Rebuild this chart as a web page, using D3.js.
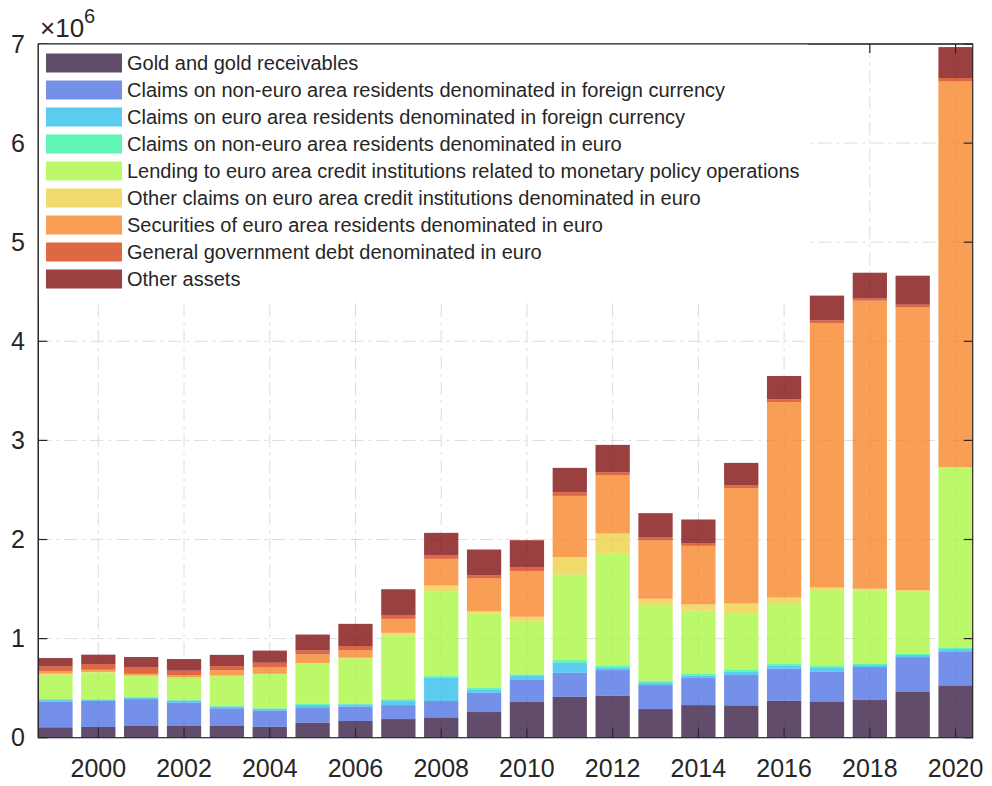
<!DOCTYPE html>
<html><head><meta charset="utf-8">
<script src="https://cdn.jsdelivr.net/npm/d3@7"></script>
<style>
body{margin:0;background:#fff}
svg{display:block}
text{font-family:"Liberation Sans",Arial,Helvetica,sans-serif;fill:#262626}
</style>
</head><body>
<svg id="chart" width="992" height="786"></svg>
<script>
// ---- data (millions of EUR) ----
const years = [1999,2000,2001,2002,2003,2004,2005,2006,2007,2008,2009,2010,2011,2012,2013,2014,2015,2016,2017,2018,2019,2020];
const gold        = [105000,108000,118000,118000,118000,111000,152000,169000,188000,205000,259000,360000,413000,424000,289000,329000,326000,373000,366000,380000,461000,528000];
const nonEuroFC   = [260000,264000,271000,237000,179000,163000,155000,145000,141000,165000,195000,222000,242000,258000,242000,273000,306000,323000,300000,333000,352000,343000];
const euroFC      = [15000,12000,17000,20000,17000,17000,24000,22000,47000,235000,33000,40000,101000,27000,27000,27000,37000,33000,37000,20000,21000,23000];
const nonEuroEuro = [9000,5000,6000,10000,7000,6000,10000,9000,13000,17000,17000,17000,27000,20000,17000,20000,20000,21000,20000,17000,16000,17000];
const lending     = [246000,270000,210000,218000,300000,345000,405000,455000,649000,857000,750000,541000,864000,1130000,756000,632000,561000,598000,766000,739000,629000,1812000];
const otherClaims = [10000,5000,5000,5000,6000,3000,7000,7000,20000,57000,23000,40000,175000,202000,71000,64000,105000,67000,27000,14000,10000,6000];
const securities  = [24000,22000,18000,22000,54000,65000,88000,75000,141000,269000,330000,461000,618000,588000,588000,591000,1163000,1973000,2669000,2907000,2857000,3894000];
const govDebt     = [51000,57000,64000,47000,41000,47000,41000,43000,34000,37000,33000,37000,37000,30000,30000,24000,30000,27000,27000,24000,24000,34000];
const otherAssets = [84000,95000,105000,117000,114000,122000,159000,224000,265000,225000,259000,275000,246000,276000,246000,242000,225000,235000,249000,258000,292000,312000];

const seriesNames = [
  "Gold and gold receivables",
  "Claims on non-euro area residents denominated in foreign currency",
  "Claims on euro area residents denominated in foreign currency",
  "Claims on non-euro area residents denominated in euro",
  "Lending to euro area credit institutions related to monetary policy operations",
  "Other claims on euro area credit institutions denominated in euro",
  "Securities of euro area residents denominated in euro",
  "General government debt denominated in euro",
  "Other assets"
];
const seriesColors = ["#2d1039","#456be0","#25b9eb","#29f19b","#a5f738","#ebcd3b","#f77d1c","#d33504","#790000"];
const xTickValues = [2000,2002,2004,2006,2008,2010,2012,2014,2016,2018,2020];
const yTickValues = [0,1,2,3,4,5,6,7];

// ---- build table ----
const seriesArrays = [gold,nonEuroFC,euroFC,nonEuroEuro,lending,otherClaims,securities,govDebt,otherAssets];
const keys = seriesNames;
const table = years.map((yr,i)=>{
  const row = {year:yr};
  keys.forEach((k,j)=>{ row[k]=seriesArrays[j][i]; });
  return row;
});
const stacked = d3.stack().keys(keys)(table);

// ---- layout ----
const svg = d3.select("#chart");
const L=38.3, R=972.7, T=44, B=737.7;
const x = d3.scaleLinear().domain([1998.6,2020.4]).range([L,R]);
const y = d3.scaleLinear().domain([0,7e6]).range([B,T]);
const barW = x(1998.6+0.8)-x(1998.6);
const axisColor="#262626", gridColor="#dcdcdc";

// grid
const grid = svg.append("g");
grid.selectAll("line.gx").data(xTickValues).join("line")
  .attr("x1",d=>x(d)).attr("x2",d=>x(d)).attr("y1",T).attr("y2",B)
  .attr("stroke",gridColor).attr("stroke-width",1).attr("stroke-dasharray","13,5,3,5");
grid.selectAll("line.gy").data(yTickValues.filter(v=>v>0&&v<7)).join("line")
  .attr("x1",L).attr("x2",R).attr("y1",d=>y(d*1e6)).attr("y2",d=>y(d*1e6))
  .attr("stroke",gridColor).attr("stroke-width",1).attr("stroke-dasharray","13,5,3,5");

// bars
const gBars = svg.append("g");
stacked.forEach((s,j)=>{
  gBars.append("g").attr("fill",seriesColors[j]).attr("fill-opacity",0.75)
    .selectAll("rect").data(s).join("rect")
    .attr("x",d=>x(d.data.year)-barW/2)
    .attr("width",barW)
    .attr("y",d=>y(d[1]))
    .attr("height",d=>Math.max(0,y(d[0])-y(d[1])));
});

// axes box + ticks
const ax = svg.append("g").attr("stroke",axisColor).attr("stroke-width",1.2).attr("fill","none");
ax.append("rect").attr("x",L).attr("y",T).attr("width",R-L).attr("height",B-T);
const tl=9;
xTickValues.forEach(v=>{
  ax.append("line").attr("x1",x(v)).attr("x2",x(v)).attr("y1",B).attr("y2",B-tl);
  ax.append("line").attr("x1",x(v)).attr("x2",x(v)).attr("y1",T).attr("y2",T+tl);
});
yTickValues.forEach(v=>{
  ax.append("line").attr("x1",L).attr("x2",L+tl).attr("y1",y(v*1e6)).attr("y2",y(v*1e6));
  ax.append("line").attr("x1",R).attr("x2",R-tl).attr("y1",y(v*1e6)).attr("y2",y(v*1e6));
});

// tick labels
svg.append("g").selectAll("text").data(xTickValues).join("text")
  .attr("x",d=>x(d)).attr("y",777).attr("text-anchor","middle")
  .attr("font-size",25).text(d=>d);
svg.append("g").selectAll("text").data(yTickValues).join("text")
  .attr("x",25).attr("y",d=>y(d*1e6)).attr("dy","0.35em").attr("text-anchor","end")
  .attr("font-size",25).text(d=>d);

// exponent
const ex = svg.append("text").attr("x",40).attr("y",37).attr("font-size",26);
ex.append("tspan").text("\u00d710");
ex.append("tspan").attr("dy",-14).attr("font-size",20).text("6");

// legend
const lg = svg.append("g");
lg.append("rect").attr("x",L).attr("y",T).attr("width",808-L).attr("height",298-T).attr("fill","#fff");
seriesNames.forEach((n,i)=>{
  const cy = 63 + i*27;
  lg.append("rect").attr("x",46).attr("y",cy-9.5).attr("width",76).attr("height",19)
    .attr("fill",seriesColors[i]).attr("fill-opacity",0.75);
  lg.append("text").attr("x",127).attr("y",cy).attr("dy","0.35em").attr("font-size",20).text(n);
});
// redraw top/left border over legend
svg.append("line").attr("x1",L).attr("x2",R).attr("y1",T).attr("y2",T).attr("stroke",axisColor).attr("stroke-width",1.2);
svg.append("line").attr("x1",L).attr("x2",L).attr("y1",T).attr("y2",B).attr("stroke",axisColor).attr("stroke-width",1.2);
</script>
</body></html>
